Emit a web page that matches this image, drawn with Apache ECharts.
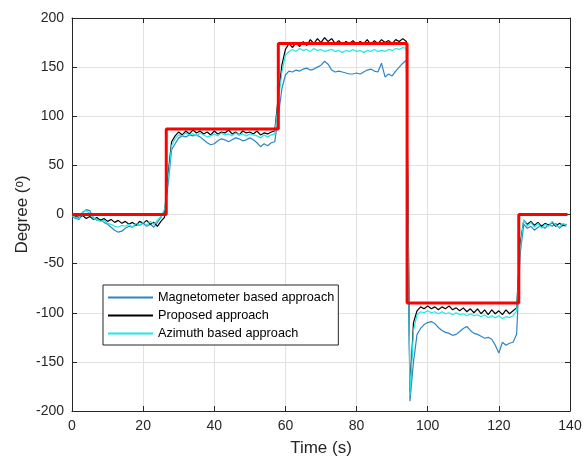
<!DOCTYPE html>
<html>
<head>
<meta charset="utf-8">
<script src="https://cdn.jsdelivr.net/npm/echarts@6/dist/echarts.min.js"></script>
<style>
html,body{margin:0;padding:0;background:#fff;}
#main{width:585px;height:458px;}
</style>
</head>
<body>
<div id="main"></div>
<script>
// sampled once per second, 0..139 s
var times = Array.from({length: 140}, function (_, i) { return i; });

var magnetometer = [
  -2,-4,-5,2,5,4,-3,-6,-5,-8, -10,-13,-16,-18,-17,-14,-12,-13,-10,-11,
  -9,-12,-10,-13,-8,-3,4,30,66,72, 78,80,79,81,80,81,79,76,73,71,
  72,75,77,76,74,76,78,77,75,76, 78,76,73,69,72,70,73,74,100,128,
  142,146,145,147,146,148,149,147,148,150, 152,156,153,147,145,146,145,144,143,143,
  144,143,145,147,148,146,145,154,140,143, 141,146,150,154,157,-190,-150,-122,-116,-112,
  -110,-109,-111,-115,-118,-120,-121,-123,-122,-119, -116,-114,-118,-121,-122,-124,-126,-125,-127,-133,
  -141,-130,-133,-131,-130,-122,-40,-10,-14,-12, -16,-13,-11,-14,-10,-12,-9,-14,-11,-12
];
var proposed = [
  0,-2,-3,-1,-4,-2,-5,-3,-6,-4, -7,-5,-8,-6,-9,-7,-10,-8,-11,-7,
  -9,-6,-10,-8,-12,-7,-3,40,74,80, 84,81,85,82,86,83,85,82,84,81,
  85,82,84,83,86,82,84,81,85,83, 84,82,85,81,83,82,84,85,120,152,
  168,174,170,175,171,176,172,178,174,179, 175,180,176,179,174,177,173,176,174,177,
  173,176,174,178,173,177,174,178,175,177, 174,178,176,179,176,-180,-110,-98,-94,-96,
  -93,-96,-94,-97,-94,-96,-93,-97,-95,-98, -95,-99,-96,-100,-96,-101,-97,-102,-97,-101,
  -98,-102,-97,-101,-98,-95,-30,-6,-10,-7, -11,-8,-12,-9,-11,-8,-12,-9,-11,-10
];
var azimuth = [
  -1,-3,-4,3,4,1,-4,-5,-7,-6, -9,-10,-12,-13,-11,-12,-10,-13,-9,-11,
  -8,-11,-7,-10,-6,-2,5,35,70,77, 81,80,83,81,82,80,83,81,79,80,
  82,80,83,81,82,80,83,81,82,80, 82,81,80,78,81,79,81,82,115,145,
  162,166,168,166,169,167,168,166,169,167, 168,166,167,168,166,167,165,167,166,168,
  166,167,165,167,166,168,166,167,166,168, 167,169,168,170,169,-184,-118,-102,-99,-100,
  -98,-100,-99,-101,-99,-101,-100,-102,-100,-102, -101,-103,-101,-103,-102,-104,-102,-105,-103,-105,
  -103,-106,-104,-105,-103,-98,-35,-5,-12,-8, -13,-9,-14,-10,-12,-7,-11,-13,-9,-11
];
// reference heading (red step line)
var refTimes = [0, 26.5, 26.5, 58, 58, 94.2, 94.2, 125.6, 125.6, 139.3];
var refValues = [0, 0, 87, 87, 174, 174, -90, -90, 0, 0];

function pairs(xs, ys) {
  return xs.map(function (x, i) { return [x, ys[i]]; });
}

var font = 'Liberation Sans, Arial, sans-serif';
var textColor = '#262626';

var myChart = echarts.init(document.getElementById('main'));

var boxAxis = {
  axisLine: {show: true, onZero: false, lineStyle: {color: '#262626', width: 1}},
  axisTick: {show: true, inside: true, length: 5, lineStyle: {color: '#262626'}}
};

myChart.setOption({
  animation: false,
  backgroundColor: '#fff',
  grid: {left: 72, right: 15, top: 18, bottom: 47, outerBoundsMode: 'none', containLabel: false},
  legend: {
    data: ['Magnetometer based approach', 'Proposed approach', 'Azimuth based approach'],
    orient: 'vertical',
    left: 103,
    top: 285,
    itemWidth: 45,
    itemHeight: 14,
    itemGap: 5,
    padding: [6, 4, 5, 4],
    backgroundColor: '#fff',
    borderColor: '#262626',
    borderWidth: 1,
    borderRadius: 0,
    itemStyle: {opacity: 0},
    textStyle: {fontFamily: font, fontSize: 12.7, color: '#000'}
  },
  xAxis: [
    Object.assign({
      type: 'value', min: 0, max: 140, interval: 20,
      name: 'Time (s)', nameLocation: 'middle', nameGap: 29,
      nameTextStyle: {fontFamily: font, fontSize: 17, color: textColor},
      axisLabel: {fontFamily: font, fontSize: 14, color: textColor, margin: 8},
      splitLine: {show: true, lineStyle: {color: '#e2e2e2', width: 1}}
    }, boxAxis),
    Object.assign({
      type: 'value', min: 0, max: 140, interval: 20, position: 'top',
      axisLabel: {show: false}, splitLine: {show: false}
    }, boxAxis)
  ],
  yAxis: [
    Object.assign({
      type: 'value', min: -200, max: 200, interval: 50,
      name: 'Degree (ᵒ)', nameLocation: 'middle', nameGap: 41, nameMoveOverlap: false,
      nameTextStyle: {fontFamily: font, fontSize: 17, color: textColor},
      axisLabel: {fontFamily: font, fontSize: 14, color: textColor, margin: 8},
      splitLine: {show: true, lineStyle: {color: '#e2e2e2', width: 1}}
    }, boxAxis),
    Object.assign({
      type: 'value', min: -200, max: 200, interval: 50, position: 'right',
      axisLabel: {show: false}, splitLine: {show: false}
    }, boxAxis)
  ],
  series: [
    {
      name: 'Magnetometer based approach', type: 'line', symbol: 'none',
      data: pairs(times, magnetometer),
      lineStyle: {color: '#2f86c4', width: 1.2}, itemStyle: {color: '#2f86c4'}, z: 2
    },
    {
      name: 'Proposed approach', type: 'line', symbol: 'none',
      data: pairs(times, proposed),
      lineStyle: {color: '#000', width: 1.2}, itemStyle: {color: '#000'}, z: 3
    },
    {
      name: 'Azimuth based approach', type: 'line', symbol: 'none',
      data: pairs(times, azimuth),
      lineStyle: {color: '#1ee8ea', width: 1.2}, itemStyle: {color: '#1ee8ea'}, z: 4
    },
    {
      name: 'Reference', type: 'line', symbol: 'none',
      data: pairs(refTimes, refValues),
      lineStyle: {color: '#ff0000', width: 3}, z: 5
    }
  ]
});
</script>
</body>
</html>
